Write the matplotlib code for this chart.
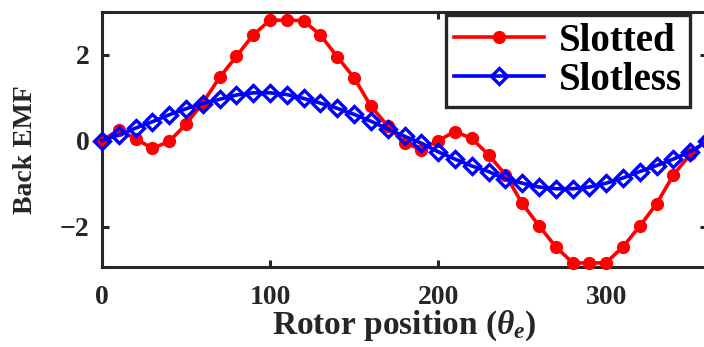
import matplotlib.pyplot as plt

plt.rcParams['font.family'] = 'Liberation Serif'
plt.rcParams['font.weight'] = 'bold'
plt.rcParams['mathtext.fontset'] = 'custom'
plt.rcParams['mathtext.rm'] = 'Liberation Serif:bold'
plt.rcParams['mathtext.it'] = 'Liberation Serif:italic:bold'

# rotor position in electrical degrees
theta = list(range(0, 361, 10))

slotted = [0.00, 0.25, 0.04, -0.18, -0.02, 0.38, 0.88, 1.47, 1.96, 2.46,
           2.80, 2.80, 2.79, 2.45, 1.95, 1.46, 0.80, 0.34, -0.05, -0.21,
           0.00, 0.21, 0.05, -0.33, -0.79, -1.46, -1.98, -2.47, -2.84, -2.85,
           -2.84, -2.47, -1.99, -1.47, -0.80, -0.32, 0.02]

slotless = [0.00, 0.13, 0.29, 0.44, 0.60, 0.74, 0.86, 0.96, 1.06, 1.11,
            1.11, 1.07, 0.98, 0.87, 0.75, 0.61, 0.45, 0.27, 0.10, -0.06,
            -0.26, -0.43, -0.59, -0.72, -0.89, -0.99, -1.08, -1.12, -1.12, -1.08,
            -0.99, -0.87, -0.72, -0.58, -0.43, -0.26, -0.02]

xticks = [0, 100, 200, 300]
yticks = [-2, 0, 2]

fig = plt.figure(figsize=(7.04, 3.47), dpi=100)
ax = fig.add_axes([102 / 704, 80 / 347, 605 / 704, 255 / 347])

ax.plot(theta, slotted, color='red', lw=2.6, marker='o', ms=8.5,
        label='Slotted', clip_on=False, zorder=3)
ax.plot(theta, slotless, color='blue', lw=2.6, marker='D', ms=8.5,
        mfc='none', mew=2.4, label='Slotless', clip_on=False, zorder=4)

ax.set_xlim(0, 360)
ax.set_ylim(-2.94, 2.99)
ax.set_xticks(xticks)
ax.set_yticks(yticks)
ax.set_yticklabels(['\u22122', '0', '2'])

for s in ax.spines.values():
    s.set_linewidth(2.2)
    s.set_color('#262626')
ax.tick_params(direction='in', length=5, width=2.2, top=True, right=True,
               labelsize=20, colors='#262626')
ax.tick_params(axis='x', pad=13)
ax.tick_params(axis='y', pad=9)

ax.set_xlabel(r'Rotor position ($\theta_e$)', fontsize=24, fontweight='bold',
              labelpad=-1, color='#262626')
fig.text(25 / 704, 1 - 150 / 347, 'Back EMF', rotation=90, ha='center',
         va='center', fontsize=20, fontweight='bold', color='#262626')

leg = ax.legend(loc='upper right', bbox_to_anchor=(690 / 704, 1 - 15 / 347),
                bbox_transform=fig.transFigure, borderaxespad=0,
                fontsize=28, fancybox=False, framealpha=1,
                handlelength=2.3, handletextpad=0.4, borderpad=0.2,
                labelspacing=0.05)
leg.get_frame().set_edgecolor('#262626')
leg.get_frame().set_linewidth(2.4)

fig.savefig('out.png', dpi=100)
